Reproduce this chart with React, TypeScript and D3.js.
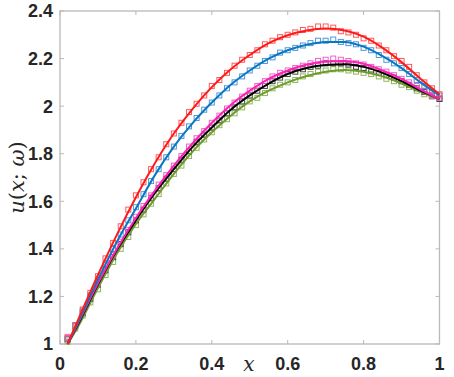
import React from "react";
import * as d3 from "d3";

// smooth solution curves, sampled at lineX
const lineX = [0.02, 0.05, 0.1, 0.15, 0.2, 0.25, 0.3, 0.35, 0.4, 0.45, 0.5, 0.55, 0.6, 0.65, 0.7, 0.75, 0.8, 0.85, 0.9, 0.95, 1.0];
const redLine = [1.0, 1.11, 1.29, 1.46, 1.617, 1.76, 1.885, 1.99, 2.08, 2.155, 2.215, 2.265, 2.298, 2.318, 2.326, 2.318, 2.292, 2.245, 2.185, 2.115, 2.05];
const blueLine = [1.0, 1.1, 1.27, 1.43, 1.57, 1.71, 1.83, 1.93, 2.015, 2.09, 2.15, 2.2, 2.235, 2.258, 2.27, 2.27, 2.25, 2.21, 2.16, 2.1, 2.045];
const magentaLine = [1.0, 1.095, 1.255, 1.4, 1.53, 1.645, 1.75, 1.845, 1.93, 2.005, 2.065, 2.115, 2.15, 2.175, 2.188, 2.19, 2.178, 2.15, 2.115, 2.07, 2.03];
const blackLine = [1.0, 1.09, 1.25, 1.395, 1.52, 1.635, 1.735, 1.83, 1.91, 1.985, 2.045, 2.095, 2.135, 2.16, 2.173, 2.176, 2.165, 2.14, 2.105, 2.065, 2.03];
const greenLine = [1.0, 1.08, 1.235, 1.38, 1.505, 1.61, 1.715, 1.81, 1.89, 1.96, 2.02, 2.065, 2.1, 2.127, 2.145, 2.152, 2.145, 2.125, 2.095, 2.06, 2.028];

// sampled points (square markers) at x = 0.02 .. 1.00
const markX = d3.range(1, 51).map((i) => i / 50);
const redMarks = [1.025, 1.08, 1.145, 1.215, 1.285, 1.36, 1.425, 1.495, 1.565, 1.625, 1.68, 1.735, 1.785, 1.84, 1.885, 1.93, 1.975, 2.01, 2.045, 2.085, 2.11, 2.14, 2.17, 2.195, 2.215, 2.235, 2.26, 2.275, 2.29, 2.3, 2.31, 2.32, 2.325, 2.335, 2.335, 2.33, 2.315, 2.31, 2.3, 2.285, 2.275, 2.255, 2.235, 2.21, 2.19, 2.165, 2.13, 2.1, 2.075, 2.05];
const blueMarks = [1.02, 1.075, 1.14, 1.205, 1.27, 1.335, 1.4, 1.46, 1.52, 1.575, 1.63, 1.685, 1.735, 1.785, 1.83, 1.875, 1.915, 1.95, 1.985, 2.015, 2.045, 2.075, 2.1, 2.125, 2.15, 2.17, 2.19, 2.205, 2.225, 2.235, 2.245, 2.255, 2.265, 2.275, 2.275, 2.28, 2.27, 2.265, 2.26, 2.245, 2.235, 2.215, 2.195, 2.18, 2.16, 2.135, 2.11, 2.085, 2.06, 2.045];
const magentaMarks = [1.03, 1.075, 1.135, 1.2, 1.255, 1.315, 1.375, 1.43, 1.48, 1.535, 1.58, 1.625, 1.67, 1.71, 1.75, 1.79, 1.83, 1.865, 1.895, 1.93, 1.96, 1.99, 2.015, 2.04, 2.065, 2.085, 2.105, 2.125, 2.14, 2.15, 2.16, 2.17, 2.18, 2.19, 2.195, 2.2, 2.195, 2.19, 2.18, 2.175, 2.165, 2.155, 2.145, 2.13, 2.115, 2.1, 2.085, 2.065, 2.045, 2.035];
const blackMarks = [1.02, 1.075, 1.13, 1.19, 1.25, 1.31, 1.365, 1.42, 1.47, 1.52, 1.565, 1.615, 1.655, 1.695, 1.735, 1.775, 1.81, 1.85, 1.88, 1.91, 1.94, 1.97, 1.995, 2.02, 2.045, 2.065, 2.085, 2.105, 2.12, 2.135, 2.145, 2.155, 2.165, 2.17, 2.18, 2.18, 2.18, 2.175, 2.165, 2.16, 2.15, 2.14, 2.13, 2.12, 2.105, 2.09, 2.075, 2.06, 2.045, 2.03];
const greenMarks = [1.01, 1.065, 1.12, 1.175, 1.23, 1.29, 1.345, 1.4, 1.45, 1.5, 1.545, 1.59, 1.63, 1.675, 1.715, 1.75, 1.79, 1.825, 1.86, 1.89, 1.92, 1.945, 1.97, 1.995, 2.02, 2.035, 2.055, 2.075, 2.09, 2.1, 2.11, 2.125, 2.135, 2.145, 2.15, 2.155, 2.155, 2.15, 2.145, 2.14, 2.135, 2.125, 2.115, 2.105, 2.09, 2.08, 2.065, 2.05, 2.04, 2.03];

const xTicks = [0, 0.2, 0.4, 0.6, 0.8, 1];
const yTicks = [1, 1.2, 1.4, 1.6, 1.8, 2, 2.2, 2.4];

const series = [
  { line: greenLine, marks: greenMarks, color: "#6f9a2e", mark: "#8fb85a" },
  { line: blackLine, marks: blackMarks, color: "#000000", mark: "#444444" },
  { line: magentaLine, marks: magentaMarks, color: "#ff1fb4", mark: "#f060c8" },
  { line: blueLine, marks: blueMarks, color: "#0a76c4", mark: "#4a9ad8" },
  { line: redLine, marks: redMarks, color: "#ff1a1a", mark: "#ff5a5a" },
];

const W = 454;
const H = 377;
const left = 60;
const right = 439.5;
const top = 11;
const bottom = 344;

export default function App() {
  const x = d3.scaleLinear().domain([0, 1]).range([left, right]);
  const y = d3.scaleLinear().domain([1, 2.4]).range([bottom, top]);

  const line = d3
    .line<number>()
    .x((d, i) => x(lineX[i]))
    .y((d) => y(d))
    .curve(d3.curveMonotoneX);

  const axisColor = "#b9b9b9";
  const fmt = (v: number) => String(+v.toFixed(1));

  return (
    <svg width={W} height={H} style={{ position: "absolute", left: 0, top: 0, background: "#fff" }}>
      {/* box */}
      <rect x={left} y={top} width={right - left} height={bottom - top} fill="none" stroke={axisColor} strokeWidth={1.3} />
      {xTicks.map((t) => (
        <g key={"x" + t}>
          <line x1={x(t)} x2={x(t)} y1={bottom} y2={bottom - 4} stroke={axisColor} />
          <line x1={x(t)} x2={x(t)} y1={top} y2={top + 4} stroke={axisColor} />
          <text x={x(t)} y={370} textAnchor="middle" fontFamily="Liberation Sans, Arial, sans-serif" fontWeight="bold" fontSize={18} fill="#262626">
            {fmt(t)}
          </text>
        </g>
      ))}
      {yTicks.map((t) => (
        <g key={"y" + t}>
          <line x1={left} x2={left + 4} y1={y(t)} y2={y(t)} stroke={axisColor} />
          <line x1={right} x2={right - 4} y1={y(t)} y2={y(t)} stroke={axisColor} />
          <text x={53} y={y(t)} dy="0.36em" textAnchor="end" fontFamily="Liberation Sans, Arial, sans-serif" fontWeight="bold" fontSize={18} fill="#262626">
            {fmt(t)}
          </text>
        </g>
      ))}

      {/* markers */}
      {series.map((s, si) => (
        <g key={"m" + si} fill="none" stroke={s.mark} strokeWidth={1}>
          {s.marks.map((v, i) => (
            <rect key={i} x={x(markX[i]) - 2.5} y={y(v) - 2.5} width={5} height={5} />
          ))}
        </g>
      ))}

      {/* lines */}
      {series.map((s, si) => (
        <path key={"l" + si} d={line(s.line) || ""} fill="none" stroke={s.color} strokeWidth={2} />
      ))}

      {/* axis labels */}
      <text x={249} y={371} textAnchor="middle" fontFamily="DejaVu Serif, serif" fontStyle="italic" fontSize={20} fill="#262626">
        x
      </text>
      <text
        transform={`translate(24, ${(top + bottom) / 2}) rotate(-90)`}
        textAnchor="middle"
        fontFamily="DejaVu Serif, serif"
        fontSize={21}
        fill="#262626"
      >
        <tspan fontStyle="italic">u</tspan>(<tspan fontStyle="italic">x</tspan>; <tspan fontStyle="italic">ω</tspan>)
      </text>
    </svg>
  );
}
